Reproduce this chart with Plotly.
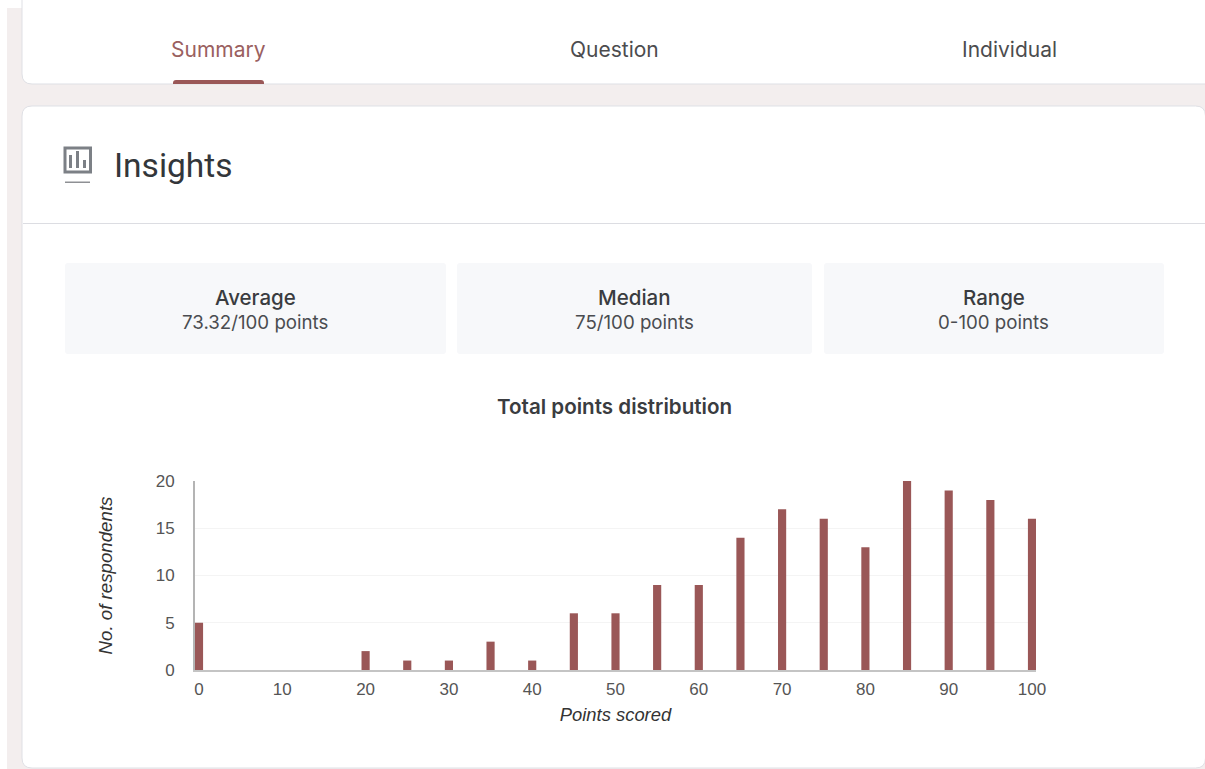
import plotly.graph_objects as go

points = [0, 20, 25, 30, 35, 40, 45, 50, 55, 60, 65, 70, 75, 80, 85, 90, 95, 100]
respondents = [5, 2, 1, 1, 3, 1, 6, 6, 9, 9, 14, 17, 16, 13, 20, 19, 18, 16]
x_ticks = [0, 10, 20, 30, 40, 50, 60, 70, 80, 90, 100]
y_ticks = [0, 5, 10, 15, 20]
tabs = ["Summary", "Question", "Individual"]
stat_names = ["Average", "Median", "Range"]
stat_values = ["73.32/100 points", "75/100 points", "0-100 points"]

W, H = 1205, 769
BAR = "#9a5757"
PAGE = "#f3eeee"
BORDER = "#dfe0e5"
ICON = "#7c8086"
UI_FONT = "Inter"
CHART_FONT = "Liberation Sans"


def px(x):
    return x / W


def py(y):
    return 1 - y / H


def rect(x0, y0, x1, y1, fill, line=None, lw=1):
    return dict(type="rect", xref="paper", yref="paper", x0=px(x0), x1=px(x1), y0=py(y0), y1=py(y1),
                fillcolor=fill, line=dict(color=line or fill, width=lw if line else 0), layer="below")


def rounded(x0, y0, x1, y1, r, fill, line=None, tl=True, tr=True, br=True, bl=True):
    def P(x, y):
        return f"{px(x):.5f},{py(y):.5f}"
    d = f"M{P(x0 + (r if tl else 0), y0)} L{P(x1 - (r if tr else 0), y0)} "
    if tr:
        d += f"Q{P(x1, y0)} {P(x1, y0 + r)} "
    d += f"L{P(x1, y1 - (r if br else 0))} "
    if br:
        d += f"Q{P(x1, y1)} {P(x1 - r, y1)} "
    d += f"L{P(x0 + (r if bl else 0), y1)} "
    if bl:
        d += f"Q{P(x0, y1)} {P(x0, y1 - r)} "
    d += f"L{P(x0, y0 + (r if tl else 0))} "
    if tl:
        d += f"Q{P(x0, y0)} {P(x0 + r, y0)} "
    d += "Z"
    return dict(type="path", xref="paper", yref="paper", path=d, fillcolor=fill,
                line=dict(color=line or fill, width=1 if line else 0), layer="below")


def label(x, y, text, size, color, family=UI_FONT, weight=400, **kw):
    return dict(xref="paper", yref="paper", x=px(x), y=py(y), text=text, showarrow=False,
                xanchor=kw.pop("xanchor", "center"), yanchor="middle",
                font=dict(size=size, color=color, family=family, weight=weight), **kw)


shapes = [
    rect(7, 8, W, H, PAGE),
    rounded(22, -10, W + 10, 84, 10, "#ffffff", BORDER),
    rounded(22, 106, W + 0.5, 768, 10, "#ffffff", BORDER),
    rect(23, 223, W, 224, "#dcdde2"),
    rounded(173, 80, 264, 84, 3, BAR, br=False, bl=False),
    rounded(65, 263, 446, 354, 3, "#f7f8fa"),
    rounded(457, 263, 812, 354, 3, "#f7f8fa"),
    rounded(824, 263, 1164, 354, 3, "#f7f8fa"),
    dict(type="rect", xref="paper", yref="paper", x0=px(65), x1=px(90.5), y0=py(148), y1=py(172),
         fillcolor="rgba(0,0,0,0)", line=dict(color=ICON, width=3), layer="below"),
    rect(69, 155, 72, 168, ICON),
    rect(76, 151, 79, 168, ICON),
    rect(83, 160, 86, 168, ICON),
    rect(65, 181.5, 90, 183, "#8e9094"),
]

annotations = [
    label(218.5, 49, tabs[0], 21, "#9a6060"),
    label(614, 49, tabs[1], 21, "#4c4c4e"),
    label(1009, 49, tabs[2], 21, "#4c4c4e"),
    label(112, 165, "Insights", 33.5, "#33363a", family="Roboto", xanchor="left"),
    label(255, 297, stat_names[0], 20.5, "#3a3c40", weight=500),
    label(255, 322, stat_values[0], 18.7, "#4a4c50"),
    label(634.5, 297, stat_names[1], 20.5, "#3a3c40", weight=500),
    label(634.5, 322, stat_values[1], 18.7, "#4a4c50"),
    label(993.5, 297, stat_names[2], 20.5, "#3a3c40", weight=500),
    label(993.5, 322, stat_values[2], 18.7, "#4a4c50"),
    label(614.5, 406, "Total points distribution", 20.6, "#3a3c40", weight=600),
]

fig = go.Figure(go.Bar(x=points, y=respondents, width=0.98, marker=dict(color=BAR, line=dict(width=0))))
fig.update_layout(
    template="none",
    width=W, height=H, margin=dict(l=0, r=0, t=0, b=0, pad=0), autosize=False,
    paper_bgcolor="#ffffff", plot_bgcolor="rgba(0,0,0,0)", showlegend=False,
    shapes=shapes, annotations=annotations,
    xaxis=dict(domain=[px(195), px(1036)], range=[-0.48, 100.48], tickvals=x_ticks, ticks="", showgrid=False,
               automargin=False, zeroline=False, showline=True, linecolor="#c4c4c4", linewidth=2, ticklabelstandoff=3,
               tickfont=dict(family=CHART_FONT, size=17, color="#555555"),
               title=dict(text="<i>Points scored</i>", standoff=10,
                          font=dict(family=CHART_FONT, size=18.4, color="#333333"))),
    yaxis=dict(domain=[py(670), py(481)], range=[0, 20], tickvals=y_ticks, ticks="", showgrid=True,
               automargin=False, gridcolor="#f4f4f4", gridwidth=1, zeroline=False, showline=True,
               linecolor="#b4b4b4", linewidth=2, ticklabelstandoff=15,
               tickfont=dict(family=CHART_FONT, size=17, color="#555555"),
               title=dict(text="<i>No. of respondents</i>", standoff=38,
                          font=dict(family=CHART_FONT, size=18.7, color="#333333"))),
)
post = """
document.documentElement.style.margin='0';
document.body.style.margin='0';
document.body.style.overflow='hidden';
"""
fig.write_html("out.html", post_script=post, config=dict(displayModeBar=False, responsive=False))
